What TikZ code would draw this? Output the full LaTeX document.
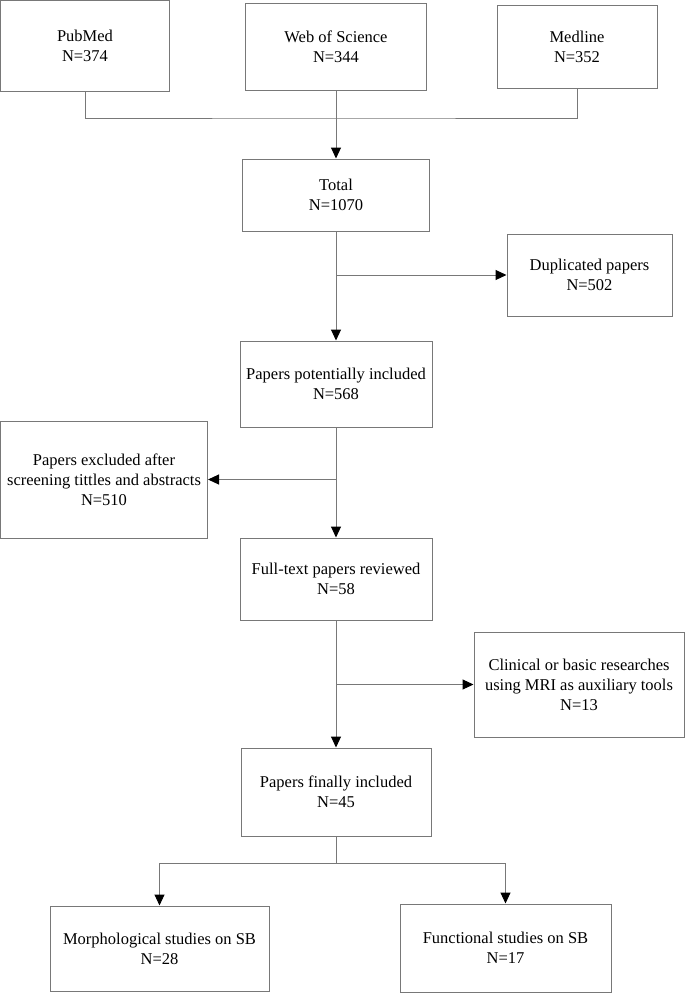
\documentclass[tikz,border=0pt]{standalone}
\usepackage{fontspec}
\setmainfont{Liberation Serif}
\usetikzlibrary{arrows.meta}
\definecolor{linegray}{RGB}{120,120,120}

\begin{document}
\begin{tikzpicture}[x=1pt, y=-1pt,
    box/.style={draw=linegray, line width=1pt, align=center, inner sep=0pt,
        font=\fontsize{16.5}{20}\selectfont},
    link/.style={draw=linegray, line width=1pt},
    arr/.style={link, -{Triangle[length=11pt, width=10pt, color=black]}}]
    \useasboundingbox (0,0) rectangle (685,993);
    % sources
    \node[box, minimum width=169, minimum height=91] (pubmed) at (85,46) {PubMed\\N=374};
    \node[box, minimum width=181, minimum height=87] (wos) at (336,46.5) {Web of Science\\N=344};
    \node[box, minimum width=160, minimum height=83] (medline) at (577,46.5) {Medline\\N=352};
    % main column
    \node[box, minimum width=187, minimum height=72] (total) at (336,195) {Total\\N=1070};
    \node[box, minimum width=192, minimum height=86] (potential) at (336,384) {Papers potentially included\\N=568};
    \node[box, minimum width=192, minimum height=82] (fulltext) at (336,579) {Full-text papers reviewed\\N=58};
    \node[box, minimum width=190, minimum height=88] (final) at (336,792) {Papers finally included\\N=45};
    % side boxes
    \node[box, minimum width=207, minimum height=117] (excluded) at (104,479.5) {Papers excluded after\\screening tittles and abstracts\\N=510};
    \node[box, minimum width=165, minimum height=82] (duplicated) at (589.5,275) {Duplicated papers\\N=502};
    \node[box, minimum width=210, minimum height=105] (clinical) at (579,684.5) {Clinical or basic researches\\using MRI as auxiliary tools\\N=13};
    % results
    \node[box, minimum width=219, minimum height=85] (morph) at (159.5,948.5) {Morphological studies on SB\\N=28};
    \node[box, minimum width=211, minimum height=88] (func) at (505.5,948) {Functional studies on SB\\N=17};

    \coordinate (join) at (336,118);
    \coordinate (split) at (336,863);
    \coordinate (b1) at (total.south |- duplicated.west);
    \coordinate (b2) at (potential.south |- excluded.east);
    \coordinate (b3) at (fulltext.south |- clinical.west);

    \draw[link] (pubmed.south) |- (join) -| (medline.south);
    \draw[arr] (wos.south) -- (total.north);
    \draw[arr] (total.south) -- (potential.north);
    \draw[arr] (potential.south) -- (fulltext.north);
    \draw[arr] (fulltext.south) -- (final.north);
    \foreach \from/\to in {b1/duplicated.west, b2/excluded.east, b3/clinical.west}
        \draw[arr] (\from) -- (\to);
    \draw[link] (final.south) -- (split);
    \draw[arr] (split) -| (morph.north);
    \draw[arr] (split) -| (func.north);
\end{tikzpicture}
\end{document}
